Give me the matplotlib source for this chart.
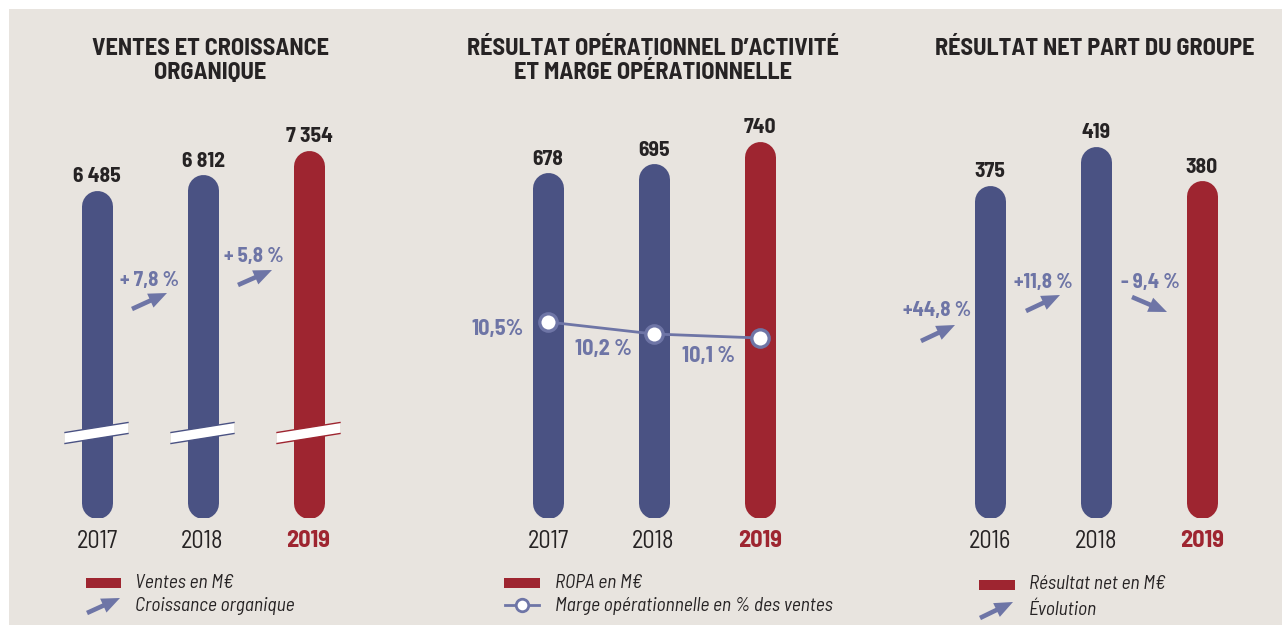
import numpy as np
import matplotlib
matplotlib.use("Agg")
from matplotlib import pyplot as plt
from matplotlib import font_manager
from matplotlib.patches import Rectangle, Polygon, FancyArrowPatch
from matplotlib.lines import Line2D

installed = set(f.name for f in font_manager.fontManager.ttflist)


def pick(*names):
    for n in names:
        if n in installed:
            return n
    return 'DejaVu Sans'


FONT = pick('Barlow Semi Condensed', 'Roboto Condensed', 'Saira SemiCondensed')
IFONT = pick('Barlow Semi Condensed', 'Roboto Condensed', 'Sofia Sans Semi Condensed')
plt.rcParams['font.family'] = [FONT, 'DejaVu Sans']

# data
sales_years = ['2017', '2018', '2019']
sales = [6485, 6812, 7354]
sales_labels = ['6 485', '6 812', '7 354']
growth_labels = ['+ 7,8 %', '+ 5,8 %']

ropa_years = ['2017', '2018', '2019']
ropa = [678, 695, 740]
ropa_labels = ['678', '695', '740']
margin = [10.5, 10.2, 10.1]
margin_labels = ['10,5%', '10,2 %', '10,1 %']

net_years = ['2016', '2018', '2019']
net = [375, 419, 380]
net_labels = ['375', '419', '380']
evol_labels = ['+44,8 %', '+11,8 %', '- 9,4 %']

BLUE = '#4a5283'
RED = '#9e2530'
LAV = '#6e75a6'
BG = '#e8e4df'
DARK = '#262324'

W, H = 1282, 625
fig = plt.figure(figsize=(W / 100, H / 100), dpi=100)
fig.patch.set_facecolor('white')

# overlay in pixel coordinates (y down)
ov = fig.add_axes([0, 0, 1, 1], zorder=0)
ov.set_xlim(0, W)
ov.set_ylim(H, 0)
ov.axis('off')
ov.add_patch(Rectangle((9, 9), W, H, facecolor=BG, edgecolor='none'))

AX_TOP, AX_BOT = 100, 518
BAR_W = 31
VAL_FS = 15.5
PCT_FS = 15


def panel(center0, vals, ymin, ymax, colors):
    ax = fig.add_axes([(center0 - 53) / W, (H - AX_BOT) / H,
                       318 / W, (AX_BOT - AX_TOP) / H], zorder=2)
    ax.set_xlim(-0.5, 2.5)
    ax.set_ylim(ymin, ymax)
    ax.axis('off')
    ax.patch.set_alpha(0)
    r = (BAR_W / 2) * (ymax - ymin) / (AX_BOT - AX_TOP)
    for i, v in enumerate(vals):
        ax.plot([i, i], [ymin + r, v - r], color=colors[i], lw=BAR_W * 0.72,
                solid_capstyle='round', zorder=2)
    return ax


def values(ax, vals, labels):
    for i, (v, s) in enumerate(zip(vals, labels)):
        ax.annotate(s, (i, v), xytext=(0, 4), textcoords='offset pixels',
                    ha='center', va='bottom', fontsize=VAL_FS, fontweight='bold',
                    color=DARK)


def years(centers, labels):
    for i, (x, s) in enumerate(zip(centers, labels)):
        last = i == len(labels) - 1
        ov.text(x, 541, s, ha='center', va='center', fontsize=17.5,
                fontweight='bold' if last else 'normal',
                color=RED if last else DARK)


def arrow(tail, tip):
    ov.add_patch(FancyArrowPatch(tail, tip,
                                 arrowstyle='simple,head_width=1.0,head_length=1.2,tail_width=0.3',
                                 mutation_scale=11, color=LAV, lw=0,
                                 shrinkA=0, shrinkB=0))


def pct(x, y, s, fs=PCT_FS):
    ov.text(x, y, s, ha='center', va='center', fontsize=fs,
            fontweight='bold', color=LAV)


cols = [BLUE, BLUE, RED]

# panel 1 : sales (broken scale)
ppu1 = (190 - 150) / (sales[2] - sales[0])
floor1 = sales[2] - (AX_BOT - 150) / ppu1
ax1 = panel(97, sales, floor1, floor1 + (AX_BOT - AX_TOP) / ppu1, cols)
values(ax1, sales, sales_labels)
years([97, 202, 308], sales_years)
for i in range(3):
    cx, _ = ax1.transData.transform((i, 0))
    xs = [cx - 32, cx + 31]
    ymid = [H - 438, H - 428]
    poly = Polygon([(xs[0], ymid[0] + 5.5), (xs[1], ymid[1] + 5.5),
                    (xs[1], ymid[1] - 5.5), (xs[0], ymid[0] - 5.5)],
                   closed=True, facecolor='white', edgecolor='none',
                   transform=None, zorder=3)
    ax1.add_artist(poly)
    for d in (5.5, -5.5):
        ax1.add_artist(Line2D(xs, [ymid[0] + d, ymid[1] + d], color=cols[i],
                              lw=1, transform=None, zorder=4))

pct(149, 280, growth_labels[0])
pct(254, 256, growth_labels[1])
arrow((132, 309), (167, 293))
arrow((238, 285), (272, 270))

# panel 2 : ROPA + margin
ppu2 = (AX_BOT - 141) / ropa[2]
ax2 = panel(548, ropa, 0, (AX_BOT - AX_TOP) / ppu2, cols)
values(ax2, ropa, ropa_labels)
years([548, 653, 760], ropa_years)
axm = ax2.twinx()
axm.axis('off')
m_lo = margin[0] - (AX_BOT - 322) / 40
axm.set_ylim(m_lo, m_lo + (AX_BOT - AX_TOP) / 40)
axm.plot([0, 1, 2], margin, color=LAV, lw=2, marker='o', ms=12.5,
         mfc='white', mec=LAV, mew=2.4, zorder=5)
for (x, y), s in zip([(498, 329), (603, 349), (708, 356)], margin_labels):
    pct(x, y, s, fs=16)

# panel 3 : net result
ppu3 = (AX_BOT - 146) / max(net)
ax3 = panel(990, net, 0, (AX_BOT - AX_TOP) / ppu3, cols)
values(ax3, net, net_labels)
years([990, 1096, 1202], net_years)
for (x, y), s in zip([(937, 311), (1043, 282), (1150, 282)], evol_labels):
    pct(x, y, s)
arrow((921, 341), (955, 325))
arrow((1026, 311), (1060, 295))
arrow((1132, 297), (1167, 312))

# titles
tkw = dict(ha='center', va='center', fontsize=17.5, fontweight='bold',
           color=DARK)
ov.text(210, 49, 'VENTES ET CROISSANCE', **tkw)
ov.text(210, 73, 'ORGANIQUE', **tkw)
ov.text(653, 49, 'RÉSULTAT OPÉRATIONNEL D’ACTIVITÉ', **tkw)
ov.text(653, 73, 'ET MARGE OPÉRATIONNELLE', **tkw)
ov.text(1095, 49, 'RÉSULTAT NET PART DU GROUPE', **tkw)

# legends
lkw = dict(ha='left', va='center', fontsize=14, style='italic', color=DARK,
           family=[IFONT, 'DejaVu Sans'])
ov.add_patch(Rectangle((86, 578), 35, 10, facecolor=RED, edgecolor='none'))
ov.text(135, 583, 'Ventes en M€', **lkw)
arrow((87, 613), (120, 598))
ov.text(135, 606, 'Croissance organique', **lkw)

ov.add_patch(Rectangle((504, 578), 36, 10, facecolor=RED, edgecolor='none'))
ov.text(555, 583, 'ROPA en M€', **lkw)
ov.plot([505, 539], [605, 605], color=LAV, lw=2)
ov.plot([522], [605], marker='o', ms=9, mfc='white', mec=LAV, mew=2)
ov.text(555, 606, 'Marge opérationnelle en % des ventes', **lkw)

ov.add_patch(Rectangle((979, 580), 36, 10, facecolor=RED, edgecolor='none'))
ov.text(1029, 584, 'Résultat net en M€', **lkw)
arrow((980, 618), (1013, 602))
ov.text(1029, 610, 'Évolution', **lkw)

fig.savefig('out.png', dpi=100, facecolor='white')
